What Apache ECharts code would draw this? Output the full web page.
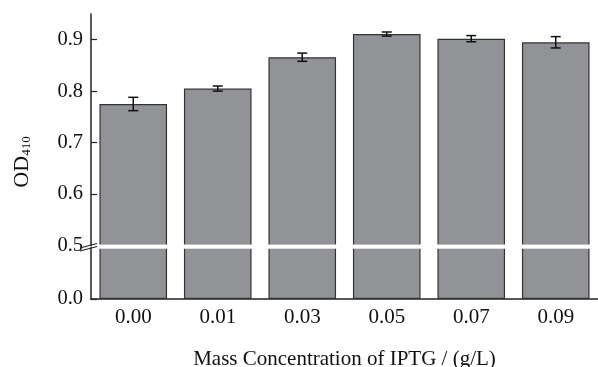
<!DOCTYPE html>
<html>
<head>
<meta charset="utf-8">
<script src="https://cdn.jsdelivr.net/npm/echarts@6/dist/echarts.min.js"></script>
<style>
  html, body { margin: 0; padding: 0; background: #fff; }
  #chart { width: 598px; height: 367px; }
</style>
</head>
<body>
<div id="chart"></div>
<script>
// IPTG 浓度 vs OD410, y轴在0.5处截断
var categories = ['0.00', '0.01', '0.03', '0.05', '0.07', '0.09'];
var odValues = [0.775, 0.805, 0.866, 0.911, 0.902, 0.895];
var errValues = [0.013, 0.005, 0.008, 0.004, 0.006, 0.011];
var upperTicks = [0.5, 0.6, 0.7, 0.8, 0.9];
var lowerTicks = [0.0];

var chart = echarts.init(document.getElementById('chart'));

var fontFam = '"Liberation Serif", "Times New Roman", serif';
var barColor = '#929397';
var lineColor = '#222';

var errData = odValues.map(function (v, i) {
  return [i, v - errValues[i], v + errValues[i]];
});

function renderErr(params, api) {
  var lo = api.coord([api.value(0), api.value(1)]);
  var hi = api.coord([api.value(0), api.value(2)]);
  var half = 5;
  var st = { stroke: '#111', lineWidth: 1.5 };
  return {
    type: 'group',
    children: [
      { type: 'line', shape: { x1: lo[0], y1: lo[1], x2: hi[0], y2: hi[1] }, style: st },
      { type: 'line', shape: { x1: lo[0] - half, y1: lo[1], x2: lo[0] + half, y2: lo[1] }, style: st },
      { type: 'line', shape: { x1: hi[0] - half, y1: hi[1], x2: hi[0] + half, y2: hi[1] }, style: st }
    ]
  };
}

var option = {
  backgroundColor: '#ffffff',
  animation: false,
  grid: [
    { left: 91, right: 0, top: 247.6, bottom: 68, outerBoundsMode: 'none' },   // 下半段 0~0.5
    { left: 91, right: 0, top: 14, bottom: 121.6, outerBoundsMode: 'none' }    // 上半段 0.5~0.95
  ],
  xAxis: [{
    gridIndex: 0,
    type: 'category',
    data: categories,
    boundaryGap: true,
    axisLine: { lineStyle: { color: lineColor, width: 1.5 } },
    axisTick: { inside: true, alignWithLabel: true, length: 6, lineStyle: { color: lineColor, width: 1.2 } },
    axisLabel: { color: '#111', fontFamily: fontFam, fontSize: 21, margin: 8 },
    name: 'Mass Concentration of IPTG / (g/L)',
    nameLocation: 'middle',
    nameGap: 50,
    nameTextStyle: { color: '#111', fontFamily: fontFam, fontSize: 21 }
  }, {
    gridIndex: 1,
    type: 'category',
    data: categories,
    show: false
  }],
  yAxis: [{
    gridIndex: 0,
    type: 'value',
    min: 0,
    max: 0.5,
    splitLine: { show: false },
    axisLine: { show: true, lineStyle: { color: lineColor, width: 1.5 } },
    axisTick: { show: true, inside: true, length: 6, customValues: lowerTicks, lineStyle: { color: lineColor, width: 1.2 } },
    axisLabel: {
      customValues: lowerTicks,
      color: '#111', fontFamily: fontFam, fontSize: 20.5, margin: 8,
      formatter: function (v) { return v.toFixed(1); }
    }
  }, {
    gridIndex: 1,
    type: 'value',
    min: 0.5,
    max: 0.95,
    splitLine: { show: false },
    axisLine: { show: true, lineStyle: { color: lineColor, width: 1.5 } },
    axisTick: { show: true, inside: true, length: 6, customValues: upperTicks, lineStyle: { color: lineColor, width: 1.2 } },
    axisLabel: {
      customValues: upperTicks,
      color: '#111', fontFamily: fontFam, fontSize: 20.5, margin: 8,
      formatter: function (v) { return v.toFixed(1); }
    }
  }],
  series: [{
    type: 'bar',
    xAxisIndex: 0,
    yAxisIndex: 0,
    data: odValues,
    barCategoryGap: '20%',
    clip: true,
    itemStyle: { color: barColor, borderColor: '#333', borderWidth: 1.2 }
  }, {
    type: 'bar',
    xAxisIndex: 1,
    yAxisIndex: 1,
    data: odValues,
    barCategoryGap: '20%',
    clip: true,
    itemStyle: { color: barColor, borderColor: '#333', borderWidth: 1.2 }
  }, {
    type: 'custom',
    xAxisIndex: 1,
    yAxisIndex: 1,
    data: errData,
    renderItem: renderErr,
    z: 5
  }],
  graphic: [
    // 截断处白带 + 标记
    { type: 'rect', shape: { x: 92, y: 244.4, width: 506, height: 4.4 }, style: { fill: '#fff' }, z: 9 },
    { type: 'line', shape: { x1: 80, y1: 248, x2: 97, y2: 243.5 }, style: { stroke: '#222', lineWidth: 1.2 }, z: 10 },
    { type: 'line', shape: { x1: 80, y1: 251, x2: 97, y2: 246.5 }, style: { stroke: '#222', lineWidth: 1.2 }, z: 10 },
    {
      type: 'text',
      x: 20,
      y: 162,
      rotation: Math.PI / 2,
      style: {
        text: '{a|OD}{b|410}',
        align: 'center',
        verticalAlign: 'middle',
        fill: '#111',
        rich: {
          a: { fontFamily: fontFam, fontSize: 22, fill: '#111', verticalAlign: 'bottom', lineHeight: 26 },
          b: { fontFamily: fontFam, fontSize: 13, fill: '#111', verticalAlign: 'bottom', lineHeight: 20 }
        }
      }
    }
  ]
};

chart.setOption(option);
</script>
</body>
</html>
